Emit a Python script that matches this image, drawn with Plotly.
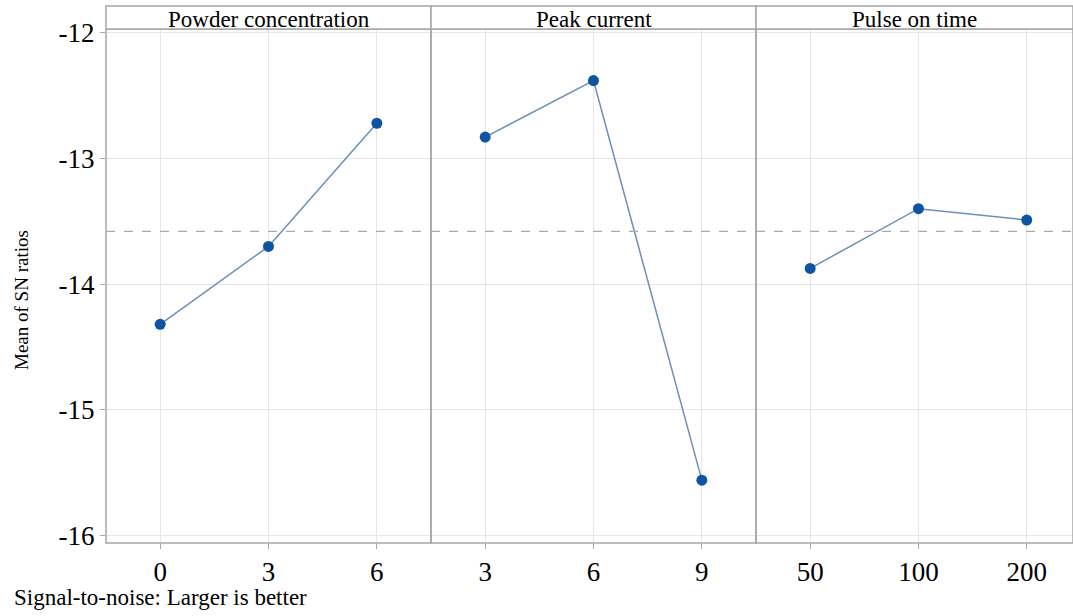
import plotly.graph_objects as go
from plotly.subplots import make_subplots

# ---- data ----
panel_titles = ["Powder concentration", "Peak current", "Pulse on time"]
levels_powder = ["0", "3", "6"]
levels_current = ["3", "6", "9"]
levels_pulse = ["50", "100", "200"]
sn_powder = [-14.32, -13.70, -12.72]
sn_current = [-12.83, -12.38, -15.56]
sn_pulse = [-13.875, -13.40, -13.49]
overall_mean = -13.58
y_ticks = [-16, -15, -14, -13, -12]

W, H = 1073, 616
L, R, T, B = 106, 0, 29, 73
pw = W - L - R
ph = H - T - B
edges = [106, 431, 756, 1073]
domains = [[(edges[i] - L) / pw, (edges[i + 1] - L) / pw] for i in range(3)]
xranges = [[-0.5, 2.5], [-0.5, 2.5], [-0.5, -0.5 + (1073 - 756) / 108.3]]

FONT = "'Liberation Serif', 'Times New Roman', Times, serif"
line_col = "#6a8fb8"
mark_col = "#0d55a3"
grid_col = "#e6e6e6"
border_col = "#a6a6a6"

fig = make_subplots(rows=1, cols=3, shared_yaxes=True, horizontal_spacing=0)

levels_all = [levels_powder, levels_current, levels_pulse]
sn_all = [sn_powder, sn_current, sn_pulse]

for i in range(3):
    fig.add_trace(
        go.Scatter(
            x=list(range(len(levels_all[i]))),
            y=sn_all[i],
            mode="lines+markers",
            line=dict(color=line_col, width=1.5),
            marker=dict(color=mark_col, size=11),
            showlegend=False,
            hoverinfo="y",
        ),
        row=1, col=i + 1,
    )
    fig.update_xaxes(
        domain=domains[i],
        range=xranges[i],
        tickmode="array",
        tickvals=list(range(len(levels_all[i]))),
        ticktext=levels_all[i],
        showgrid=True, gridcolor=grid_col, gridwidth=1,
        zeroline=False,
        showline=False,
        ticks="outside", ticklen=5, tickcolor=border_col,
        tickfont=dict(family=FONT, size=27, color="black"),
        row=1, col=i + 1,
    )
    # mean reference line
    fig.add_trace(
        go.Scatter(
            x=[xranges[i][0], xranges[i][1]],
            y=[overall_mean, overall_mean],
            mode="lines",
            line=dict(color="#ababab", width=1.2, dash="dash"),
            showlegend=False, hoverinfo="skip",
        ),
        row=1, col=i + 1,
    )

fig.update_yaxes(
    range=[-16.06, -11.97],
    tickmode="array",
    tickvals=y_ticks,
    ticktext=[str(v) for v in y_ticks],
    showgrid=True, gridcolor=grid_col, gridwidth=1,
    zeroline=False, showline=False,
    ticks="outside", ticklen=5, tickcolor=border_col,
    tickfont=dict(family=FONT, size=27, color="black"),
)
fig.update_yaxes(ticks="", showticklabels=False, row=1, col=2)
fig.update_yaxes(ticks="", showticklabels=False, row=1, col=3)

shapes = []
head_top = 1 + 23 / ph
for i in range(3):
    x0, x1 = domains[i]
    # panel border
    shapes.append(dict(type="rect", xref="paper", yref="paper", x0=x0, x1=x1, y0=0, y1=1,
                       line=dict(color=border_col, width=1.5), fillcolor="rgba(0,0,0,0)", layer="above"))
    # header strip
    shapes.append(dict(type="rect", xref="paper", yref="paper", x0=x0, x1=x1, y0=1, y1=head_top,
                       line=dict(color=border_col, width=1.5), fillcolor="white", layer="above"))

annotations = []
for i in range(3):
    cx = (edges[i] + min(edges[i + 1], edges[i] + 325)) / 2
    annotations.append(dict(
        text=panel_titles[i], xref="paper", yref="paper",
        x=(cx - L) / pw, y=(1 + head_top) / 2 - 1.5 / ph,
        xanchor="center", yanchor="middle", showarrow=False,
        font=dict(family=FONT, size=23, color="black"),
    ))

annotations.append(dict(
    text="Mean of SN ratios", xref="paper", yref="paper",
    x=(21 - L) / pw, y=1 - (300 - T) / ph, textangle=-90,
    xanchor="center", yanchor="middle", showarrow=False,
    font=dict(family=FONT, size=19, color="black"),
))
annotations.append(dict(
    text="Signal-to-noise: Larger is better", xref="paper", yref="paper",
    x=(12 - L) / pw, y=1 - (597 - T) / ph,
    xanchor="left", yanchor="middle", showarrow=False,
    font=dict(family=FONT, size=23, color="black"),
))

fig.update_layout(
    width=W, height=H,
    margin=dict(l=L, r=R, t=T, b=B),
    paper_bgcolor="white", plot_bgcolor="white",
    shapes=shapes, annotations=annotations,
    font=dict(family=FONT, color="black"),
)

fig.write_html("out.html")
